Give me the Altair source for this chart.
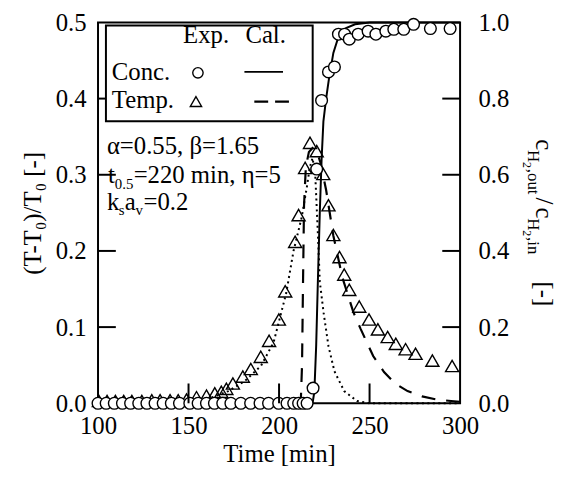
import altair as alt
import pandas as pd

# ---------------- data ----------------
# Experimental temperature rise (triangles), left axis
temp_t = [100.5, 105, 109.6, 114.2, 118.7, 124.2, 129.7, 134.3, 139.8, 144.3,
          148.9, 154.4, 159.9, 164.5, 168.1, 170.9, 174.5, 180, 184.4, 189.9,
          194.5, 199.9, 203.4, 208.9, 210.8, 214.4, 217.1, 220.8, 224.4, 227.3,
          230, 233.4, 236, 238.8, 244.3, 249.7, 254.6, 260, 264.5, 269.9,
          275.4, 284.7, 295.6]
temp_v = [0.003, 0.003, 0.003, 0.003, 0.003, 0.003, 0.004, 0.004, 0.004, 0.004,
          0.005, 0.008, 0.01, 0.013, 0.015, 0.019, 0.026, 0.035, 0.045, 0.061,
          0.082, 0.11, 0.147, 0.212, 0.247, 0.309, 0.342, 0.331, 0.301, 0.26,
          0.221, 0.192, 0.169, 0.149, 0.127, 0.11, 0.097, 0.087, 0.078, 0.071,
          0.065, 0.056, 0.049]

# Experimental outlet concentration (circles), right axis
conc_t = [100, 104.5, 109, 113.5, 118, 122.5, 127, 131.5, 136, 140.5,
          145, 150.7, 155.3, 159.9, 164.3, 168.9, 173.4, 178.9, 184.3, 189.5,
          194.2, 199.8, 204.4, 208.1, 210.8, 213.3, 215.5,
          218.8, 220.8, 223.5, 227.3, 230.6, 232.8, 236.2, 238.8, 243.7, 249.2,
          253.5, 259, 263.4, 268.9, 274.3, 283.6, 294.5]
conc_c = [0] * 27 + [0.04, 0.615, 0.795, 0.87, 0.883, 0.969, 0.969, 0.956, 0.969,
                     0.977, 0.969, 0.977, 0.982, 0.982, 0.995, 0.984, 0.984]

# Calculated concentration (solid), right axis
cal_conc_t = [100, 218.5, 219.5, 220.5, 221.5, 222.5, 223.5, 224.5, 226, 227.5,
              230, 233, 237, 242, 250, 300]
cal_conc_c = [0, 0, 0.03, 0.15, 0.33, 0.5, 0.64, 0.74, 0.8, 0.85,
              0.92, 0.965, 0.985, 0.995, 1.0, 1.0]

# Calculated temperature (dashed), left axis
cal_temp_t = [100, 150, 200, 212, 212.7, 213.2, 213.8, 214.8, 216.5, 218.5,
              221, 223, 226, 230, 235, 241, 245, 252, 258, 264,
              271, 279, 287, 295, 300]
cal_temp_v = [0, 0, 0.001, 0.002, 0.05, 0.15, 0.26, 0.31, 0.33, 0.335,
              0.33, 0.315, 0.28, 0.22, 0.165, 0.12, 0.098, 0.062, 0.041, 0.026,
              0.016, 0.009, 0.005, 0.003, 0.002]

# Second calculated temperature curve (dotted), left axis
dot_t = [100, 150, 161, 172, 181, 190, 197, 204, 208, 212.5,
         215.3, 217, 218.5, 220, 221.5, 222.5, 224.6, 227.3, 230.6, 236,
         243, 250, 300]
dot_v = [0, 0, 0.006, 0.016, 0.029, 0.049, 0.08, 0.145, 0.2, 0.244,
         0.283, 0.31, 0.322, 0.3, 0.22, 0.16, 0.119, 0.075, 0.042, 0.016,
         0.003, 0, 0]

x_ticks = [100, 150, 200, 250, 300]
left_ticks = [0.0, 0.1, 0.2, 0.3, 0.4, 0.5]
right_ticks = [0.0, 0.2, 0.4, 0.6, 0.8, 1.0]
inner_x_ticks = [150, 200, 250]
inner_left_ticks = [0.1, 0.2, 0.3, 0.4]
inner_right_ticks = [0.2, 0.4, 0.6, 0.8]

x_title = "Time [min]"
left_title = "(T-T\u2080)/T\u2080 [-]"
legend_head = ["Exp.", "Cal."]
legend_rows = ["Conc.", "Temp."]

# ---------------- chart ----------------
W, H = 366, 385
FONT = "Liberation Serif"
FS = 25
SUB = 15

x_enc = alt.X("t:Q", scale=alt.Scale(domain=[100, 300], nice=False, zero=False),
              axis=alt.Axis(values=x_ticks, title=x_title, ticks=False, domain=False,
                            grid=False, labelFlush=False, labelOverlap=False,
                            labelPadding=11, titlePadding=3, format="d"))

yl_scale = alt.Scale(domain=[0, 0.5], nice=False)
yr_scale = alt.Scale(domain=[0, 1.0], nice=False)

yl_axis = alt.Axis(values=left_ticks, format=".1f", orient="left", title=left_title,
                   ticks=False, domain=False, grid=False, labelPadding=12,
                   titlePadding=10, labelFlush=False, labelOverlap=False)
yr_axis = alt.Axis(values=right_ticks, format=".1f", orient="right", title=None,
                   ticks=False, domain=False, grid=False, labelPadding=18,
                   labelFlush=False, labelOverlap=False)

df_tri = pd.DataFrame({"t": temp_t, "v": temp_v})
df_cir = pd.DataFrame({"t": conc_t, "c": conc_c})
df_sol = pd.DataFrame({"t": cal_conc_t, "c": cal_conc_c})
df_dash = pd.DataFrame({"t": cal_temp_t, "v": cal_temp_v})
df_dot = pd.DataFrame({"t": dot_t, "v": dot_v})

yl = alt.Y("v:Q", scale=yl_scale, axis=yl_axis)
yr = alt.Y("c:Q", scale=yr_scale, axis=yr_axis)

dotted = alt.Chart(df_dot).mark_line(color="black", strokeWidth=2, strokeDash=[2, 3.5]).encode(x=x_enc, y=yl)
dashed = alt.Chart(df_dash).mark_line(color="black", strokeWidth=2.2, strokeDash=[14, 11]).encode(x=x_enc, y=yl)
tris = alt.Chart(df_tri).mark_point(shape="triangle-up", size=175, filled=False, opacity=1,
                                    color="black", strokeWidth=1.4).encode(x=x_enc, y=yl)
lt = alt.Chart(pd.DataFrame({"v": inner_left_ticks})).mark_rule(color="black", strokeWidth=2).encode(
    y=alt.Y("v:Q", scale=yl_scale, axis=yl_axis), x=alt.value(0), x2=alt.value(18))

temp_layer = alt.layer(dotted, dashed, tris, lt)

solid = alt.Chart(df_sol).mark_line(color="black", strokeWidth=2).encode(x=x_enc, y=yr)
circs = alt.Chart(df_cir).mark_point(shape="circle", size=140, filled=True, fill="white",
                                     stroke="black", strokeWidth=1.4, opacity=1).encode(x=x_enc, y=yr)
rt = alt.Chart(pd.DataFrame({"c": inner_right_ticks})).mark_rule(color="black", strokeWidth=2).encode(
    y=alt.Y("c:Q", scale=yr_scale, axis=yr_axis), x=alt.value(W - 18), x2=alt.value(W))

conc_layer = alt.layer(solid, circs, rt)

bt = alt.Chart(pd.DataFrame({"t": inner_x_ticks})).mark_rule(color="black", strokeWidth=2).encode(
    x=x_enc, y=alt.value(H - 20), y2=alt.value(H))

one = pd.DataFrame({"d": [0]})


def txt(s, x, y, size=FS, angle=0):
    return alt.Chart(one).mark_text(text=s, font=FONT, fontSize=size, align="left",
                                    baseline="alphabetic", angle=angle, color="black").encode(
        x=alt.value(x), y=alt.value(y))


extras = []
# legend box
extras.append(alt.Chart(one).mark_rect(fill="white", stroke="black", strokeWidth=2).encode(
    x=alt.value(8), x2=alt.value(217), y=alt.value(3), y2=alt.value(100)))
extras += [txt(legend_head[0], 86, 21), txt(legend_head[1], 149, 21),
           txt(legend_rows[0], 14, 58), txt(legend_rows[1], 14, 87)]
extras.append(alt.Chart(one).mark_point(shape="circle", size=110, filled=False, color="black",
                                        opacity=1, strokeWidth=1.4).encode(x=alt.value(101), y=alt.value(51)))
extras.append(alt.Chart(one).mark_point(shape="triangle-up", size=130, filled=False, color="black",
                                        opacity=1, strokeWidth=1.4).encode(x=alt.value(99), y=alt.value(80)))
extras.append(alt.Chart(one).mark_rule(color="black", strokeWidth=2).encode(
    x=alt.value(148), x2=alt.value(187), y=alt.value(50)))
extras.append(alt.Chart(one).mark_rule(color="black", strokeWidth=2.2, strokeDash=[14, 7]).encode(
    x=alt.value(158), x2=alt.value(194), y=alt.value(80)))

# parameter annotation
extras += [
    txt("\u03b1=0.55, \u03b2=1.65", 9, 133),
    txt("t", 10, 162), txt("0.5", 17, 168, SUB), txt("=220 min, \u03b7=5", 36, 162),
    txt("k", 9, 190), txt("s", 21, 195, SUB), txt("a", 27, 190), txt("v", 38, 195, SUB),
    txt("=0.2", 46, 190),
]

# right axis title (rotated pieces with subscripts)
MB, SB, SSB = 443, 435, 430
extras += [
    txt("c", MB, 118, FS, 90), txt("H", SB, 129, 17, 90), txt("2", SSB, 141, 12, 90),
    txt(",out", SB, 148, 17, 90), txt("/", MB, 177, FS, 90),
    txt("c", MB, 187, FS, 90), txt("H", SB, 198, 17, 90), txt("2", SSB, 210, 12, 90),
    txt(",in", SB, 217, 17, 90), txt("[-]", MB, 262, FS, 90),
]

chart = alt.layer(temp_layer, conc_layer, bt, *extras).resolve_scale(y="independent").properties(
    width=W, height=H,
    background="white",
    autosize=alt.AutoSizeParams(type="none"),
    padding={"left": 91, "top": 12, "right": 100, "bottom": 76},
).configure_view(stroke="black", strokeWidth=2).configure_axis(
    labelFont=FONT, labelFontSize=FS, labelColor="black",
    titleFont=FONT, titleFontSize=FS, titleFontWeight="normal", titleColor="black",
)

chart.save("out.html", embed_options={"renderer": "svg", "actions": False})
